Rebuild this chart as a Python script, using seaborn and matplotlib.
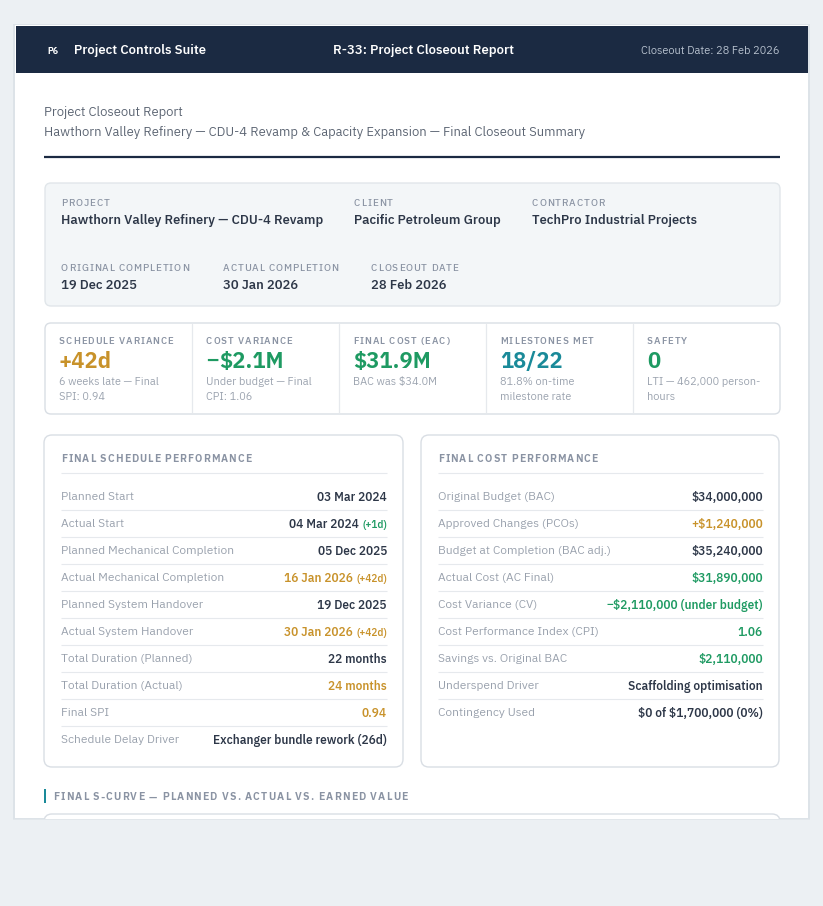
import matplotlib
matplotlib.use('Agg')
import matplotlib.pyplot as plt
import seaborn as sns
from matplotlib import font_manager as fm
from matplotlib.patches import FancyBboxPatch, Rectangle

# ---- report content ----
app_name = 'Project Controls Suite'
report_title = 'R-33: Project Closeout Report'
header_date = 'Closeout Date: 28 Feb 2026'
page_title = 'Project Closeout Report'
page_subtitle = 'Hawthorn Valley Refinery \u2014 CDU-4 Revamp & Capacity Expansion \u2014 Final Closeout Summary'

info_row1_labels = ['PROJECT', 'CLIENT', 'CONTRACTOR']
info_row1_values = ['Hawthorn Valley Refinery \u2014 CDU-4 Revamp', 'Pacific Petroleum Group', 'TechPro Industrial Projects']
info_row2_labels = ['ORIGINAL COMPLETION', 'ACTUAL COMPLETION', 'CLOSEOUT DATE']
info_row2_values = ['19 Dec 2025', '30 Jan 2026', '28 Feb 2026']

kpi_labels = ['SCHEDULE VARIANCE', 'COST VARIANCE', 'FINAL COST (EAC)', 'MILESTONES MET', 'SAFETY']
kpi_values = ['+42d', '\u2212$2.1M', '$31.9M', '18/22', '0']
kpi_notes = [['6 weeks late \u2014 Final', 'SPI: 0.94'],
             ['Under budget \u2014 Final', 'CPI: 1.06'],
             ['BAC was $34.0M'],
             ['81.8% on-time', 'milestone rate'],
             ['LTI \u2014 462,000 person-', 'hours']]
kpi_tones = ['warn', 'good', 'good', 'info', 'good']

sched_title = 'FINAL SCHEDULE PERFORMANCE'
sched_labels = ['Planned Start', 'Actual Start', 'Planned Mechanical Completion',
                'Actual Mechanical Completion', 'Planned System Handover', 'Actual System Handover',
                'Total Duration (Planned)', 'Total Duration (Actual)', 'Final SPI', 'Schedule Delay Driver']
sched_values = ['03 Mar 2024', '04 Mar 2024', '05 Dec 2025', '16 Jan 2026', '19 Dec 2025',
                '30 Jan 2026', '22 months', '24 months', '0.94', 'Exchanger bundle rework (26d)']
sched_notes = ['', '(+1d)', '', '(+42d)', '', '(+42d)', '', '', '', '']
sched_tones = ['dark', 'dark', 'dark', 'warn', 'dark', 'warn', 'dark', 'warn', 'warn', 'dark']
sched_note_tones = ['', 'good', '', 'warn', '', 'warn', '', '', '', '']

cost_title = 'FINAL COST PERFORMANCE'
cost_labels = ['Original Budget (BAC)', 'Approved Changes (PCOs)', 'Budget at Completion (BAC adj.)',
               'Actual Cost (AC Final)', 'Cost Variance (CV)', 'Cost Performance Index (CPI)',
               'Savings vs. Original BAC', 'Underspend Driver', 'Contingency Used']
cost_values = ['$34,000,000', '+$1,240,000', '$35,240,000', '$31,890,000',
               '\u2212$2,110,000 (under budget)', '1.06', '$2,110,000',
               'Scaffolding optimisation', '$0 of $1,700,000 (0%)']
cost_tones = ['dark', 'warn', 'dark', 'good', 'good', 'good', 'good', 'dark', 'dark']

scurve_title = 'FINAL S-CURVE \u2014 PLANNED VS. ACTUAL VS. EARNED VALUE'

# ---- styling ----
BG = '#ECF0F3'
NAVY = '#1B2A42'
DARK = '#2D3748'
MUTED = '#8A93A3'
SOFT = '#5B6472'
LINE = '#E6E9ED'
BORDER = '#D9DEE4'
TONE = {'dark': DARK, 'warn': '#C8922A', 'good': '#1E9A62', 'info': '#1A8A99'}
MINUS = '\u2212'

sns.set_theme(style='white')
# Plex Sans JP ships static weights and carries the Plex Sans latin glyphs
FAMILY = ['IBM Plex Sans JP', 'IBM Plex Sans', 'DejaVu Sans']
plt.rcParams['font.family'] = FAMILY
plt.rcParams['text.parse_math'] = False

W, H = 823, 906
PT = 0.72  # px -> pt at 100 dpi

fig = plt.figure(figsize=(W / 100, H / 100), dpi=100)
fig.patch.set_facecolor(BG)
ax = fig.add_axes([0, 0, 1, 1])
ax.set_xlim(0, W)
ax.set_ylim(H, 0)
ax.axis('off')
ax.set_facecolor(BG)
renderer = fig.canvas.get_renderer()


def _text(x, y, s, px, color, w, ha, z, family=None):
    kw = {'family': family} if family else {}
    t = ax.text(x, y, s, fontsize=px * PT, color=color, fontweight=w,
                ha=ha, va='center', zorder=z, **kw)
    return t.get_window_extent(renderer).width


def put(x, y, s, px, color, w=400, ha='left', track=0.0, z=5):
    y = y + 1.8
    if not track:
        if s.startswith(MINUS):
            # the JP face has a full-width minus; use a latin one instead
            mf = ['Liberation Sans', 'DejaVu Sans']
            if ha == 'right':
                wr = _text(x, y, s[1:], px, color, w, 'right', z)
                wm = _text(x - wr - 0.5, y, MINUS, px, color, w, 'right', z, mf)
            else:
                wm = _text(x, y, MINUS, px, color, w, 'left', z, mf)
                wr = _text(x + wm + 0.5, y, s[1:], px, color, w, 'left', z)
            return wm + wr + 0.5
        return _text(x, y, s, px, color, w, ha, z)
    # letter-spaced text, placed glyph by glyph
    fp = fm.FontProperties(family=FAMILY, weight=w, size=px * PT)
    font = fm.get_font(fm.findfont(fp))
    font.set_size(px * PT, 100)
    cx = x
    for ch in s:
        ax.text(cx, y, ch, fontsize=px * PT, color=color, fontweight=w,
                ha='left', va='center', zorder=z)
        cx += font.load_char(ord(ch)).linearHoriAdvance / 65536 + track
    return cx - x


def box(x0, y0, x1, y1, fc, ec, r=6, lw=1.0, z=2):
    ax.add_patch(FancyBboxPatch((x0, y0), x1 - x0, y1 - y0,
                                boxstyle='round,pad=0,rounding_size=%d' % r,
                                facecolor=fc, edgecolor=ec, linewidth=lw, zorder=z))


def hline(x0, x1, y, color=LINE, lw=0.8, z=3):
    ax.plot([x0, x1], [y, y], color=color, linewidth=lw, zorder=z, solid_capstyle='butt')


# page + shadow
ax.add_patch(Rectangle((13, 24), 797, 797, facecolor='#DDE3E8', edgecolor='none', zorder=0))
ax.add_patch(Rectangle((15, 25), 793, 793, facecolor='white', edgecolor='none', zorder=1))

# header bar
ax.add_patch(Rectangle((16, 26), 792, 47, facecolor=NAVY, edgecolor='none', zorder=2))
put(47, 49.5, 'P6', 8.5, 'white', w=700)
put(74, 49, app_name, 12.5, 'white', w=600)
put(423.5, 49, report_title, 12.5, 'white', w=600, ha='center')
put(780, 49, header_date, 10.5, '#B9C3D0', ha='right')

# titles
put(44, 111, page_title, 12.4, SOFT)
put(44, 130.5, page_subtitle, 12.4, SOFT)
hline(44, 780, 157, color=NAVY, lw=1.6)

# project info box
box(45, 183, 780, 306, '#F3F6F8', '#E1E6EA')
for lx, lab, val in zip([61, 354, 532], info_row1_labels, info_row1_values):
    put(lx, 201.5, lab, 9.5, MUTED, w=500, track=0.85)
    put(lx, 218.5, val, 12.4, DARK, w=600)
for lx, lab, val in zip([61, 223, 371], info_row2_labels, info_row2_values):
    put(lx, 266.5, lab, 9.5, MUTED, w=500, track=0.85)
    put(lx, 283.5, val, 12.4, DARK, w=600)

# KPI strip
box(45, 323, 780, 414, 'white', BORDER)
cell_w = (780 - 45) / len(kpi_labels)
for i, (lab, val, notes, tone) in enumerate(zip(kpi_labels, kpi_values, kpi_notes, kpi_tones)):
    cx = 45 + i * cell_w
    if i > 0:
        ax.plot([cx, cx], [324, 413], color=LINE, linewidth=0.9, zorder=3)
    put(cx + 14, 339.5, lab, 9.2, MUTED, w=600, track=0.95)
    put(cx + 14, 360, val, 21, TONE[tone], w=700)
    for j, note in enumerate(notes):
        put(cx + 14, 380 + 15 * j, note, 10.45, '#9AA2AE')


def panel(x0, x1, title, labels, values, tones, notes=None, note_tones=None):
    box(x0, 435, x1, 767, 'white', BORDER, r=8)
    lx, rx = x0 + 17, x1 - 16
    put(lx, 457.5, title, 9.9, MUTED, w=700, track=1.0)
    hline(lx, rx, 473)
    for k, (lab, val, tone) in enumerate(zip(labels, values, tones)):
        y = 495.5 + 27 * k
        put(lx, y, lab, 11.4, '#98A0AC')
        right = rx
        if notes and notes[k]:
            wd = put(rx, y + 0.5, notes[k], 9.6, TONE[note_tones[k]], w=600, ha='right')
            right = rx - wd - 3
        put(right, y, val, 11.4, TONE[tone], w=600, ha='right')
        if k < len(labels) - 1:
            hline(lx, rx, y + 14)


panel(44, 403, sched_title, sched_labels, sched_values, sched_tones, sched_notes, sched_note_tones)
panel(421, 779, cost_title, cost_labels, cost_values, cost_tones)

# S-curve section header
ax.add_patch(Rectangle((44, 789), 2.5, 14, facecolor='#1A8A99', edgecolor='none', zorder=3))
put(53, 795.5, scurve_title, 10, MUTED, w=700, track=1.1)
box(44, 814, 780, 860, 'white', BORDER, r=8)
# page ends here; chart box is cut off
ax.add_patch(Rectangle((0, 818.5), W, H, facecolor=BG, edgecolor='none', zorder=4))
ax.add_patch(Rectangle((13, 818.5), 797, 1.2, facecolor='#E2E7EB', edgecolor='none', zorder=4))

fig.savefig('out.png', dpi=100, facecolor=BG)
